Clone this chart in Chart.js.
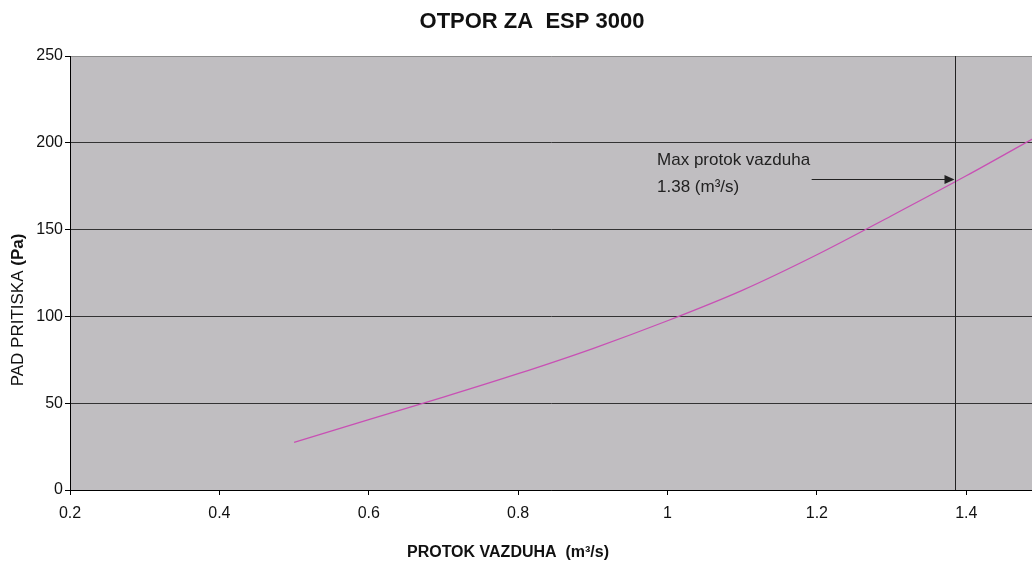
<!DOCTYPE html>
<html>
<head>
<meta charset="utf-8">
<script src="https://cdn.jsdelivr.net/npm/chart.js@4"></script>
<style>
  html, body { margin: 0; padding: 0; background: #fff; }
  canvas { display: block; }
</style>
</head>
<body>
<canvas id="esp-chart" width="1032" height="562"></canvas>
<script>
const xTicks = [0.2, 0.4, 0.6, 0.8, 1, 1.2, 1.4];
const yTicks = [0, 50, 100, 150, 200, 250];
const flow = [0.5, 0.6, 0.7, 0.8, 0.9, 1.0, 1.1, 1.2, 1.3, 1.4, 1.5];
const pressure = [27.5, 40.5, 53.5, 67, 81.5, 97.5, 115, 135.5, 158, 181, 205];
const maxFlow = 1.385;

const FONT = '"Liberation Sans", Arial, sans-serif';
Chart.defaults.font.family = FONT;

const decor = {
  id: 'decor',
  beforeDraw(chart) {
    const { ctx, chartArea: a } = chart;
    ctx.save();
    ctx.fillStyle = '#c0bec1';
    ctx.fillRect(a.left, a.top, a.right - a.left, a.bottom - a.top);
    ctx.restore();
  },
  afterDatasetsDraw(chart) {
    const { ctx, chartArea: a, scales: { x, y } } = chart;
    ctx.save();
    // max flow line
    const lx = Math.round(x.getPixelForValue(maxFlow)) + 0.5;
    ctx.strokeStyle = '#222';
    ctx.lineWidth = 1;
    ctx.beginPath();
    ctx.moveTo(lx, a.top);
    ctx.lineTo(lx, a.bottom);
    ctx.stroke();

    // arrow pointing at the line
    const ay = Math.round(y.getPixelForValue(179)) + 0.5;
    const ax0 = x.getPixelForValue(1.193);
    const tip = lx - 1;
    ctx.beginPath();
    ctx.moveTo(ax0, ay);
    ctx.lineTo(tip - 9, ay);
    ctx.stroke();
    ctx.fillStyle = '#222';
    ctx.beginPath();
    ctx.moveTo(tip, ay);
    ctx.lineTo(tip - 10, ay - 4.5);
    ctx.lineTo(tip - 10, ay + 4.5);
    ctx.closePath();
    ctx.fill();

    // annotation text
    ctx.fillStyle = '#222';
    ctx.font = '17px ' + FONT;
    ctx.textBaseline = 'middle';
    ctx.textAlign = 'left';
    const tx = x.getPixelForValue(0.986);
    ctx.fillText('Max protok vazduha', tx, y.getPixelForValue(189.7));
    ctx.fillText('1.38 (m³/s)', tx, y.getPixelForValue(174.5));
    ctx.restore();
  },
  afterDraw(chart) {
    const { ctx } = chart;
    ctx.save();
    ctx.fillStyle = '#111';
    ctx.textBaseline = 'middle';
    ctx.textAlign = 'center';
    ctx.font = 'bold 22px ' + FONT;
    ctx.fillText('OTPOR ZA  ESP 3000', 532, 22);
    ctx.font = 'bold 16px ' + FONT;
    ctx.fillText('PROTOK VAZDUHA  (m³/s)', 508, 553);

    // y title: normal + bold part
    ctx.translate(18, 310);
    ctx.rotate(-Math.PI / 2);
    const part1 = 'PAD PRITISKA ';
    const part2 = '(Pa)';
    ctx.font = '17px ' + FONT;
    const w1 = ctx.measureText(part1).width;
    ctx.font = 'bold 17px ' + FONT;
    const w2 = ctx.measureText(part2).width;
    const start = -(w1 + w2) / 2;
    ctx.textAlign = 'left';
    ctx.font = '17px ' + FONT;
    ctx.fillText(part1, start, 0);
    ctx.font = 'bold 17px ' + FONT;
    ctx.fillText(part2, start + w1, 0);
    ctx.restore();
  }
};

new Chart(document.getElementById('esp-chart'), {
  type: 'line',
  data: {
    datasets: [
      {
        label: 'Otpor',
        data: flow.map((q, i) => ({ x: q, y: pressure[i] })),
        borderColor: '#c850b4',
        borderWidth: 1.3,
        pointRadius: 0,
        fill: false,
        cubicInterpolationMode: 'monotone',
      },
    ],
  },
  options: {
    responsive: false,
    animation: false,
    devicePixelRatio: 1,
    layout: { padding: { top: 56, left: 0, right: 0, bottom: 0 } },
    scales: {
      x: {
        type: 'linear',
        min: 0.2,
        max: 1.488,
        afterBuildTicks: (s) => { s.ticks = xTicks.map((v) => ({ value: v })); },
        afterFit: (s) => { s.height = 72; },
        grid: { drawOnChartArea: false, tickLength: 5, color: '#000', tickColor: '#000' },
        border: { color: '#000', width: 1 },
        ticks: {
          color: '#111',
          font: { size: 16 },
          padding: 9,
          maxRotation: 0,
          callback: (v) => String(v),
        },
      },
      y: {
        min: 0,
        max: 250,
        afterBuildTicks: (s) => { s.ticks = yTicks.map((v) => ({ value: v })); },
        afterFit: (s) => { s.width = 70; },
        grid: {
          color: (c) => (c.tick && c.tick.value === 250 ? '#8c8c8c' : '#333'),
          tickColor: '#000',
          tickLength: 5,
        },
        border: { color: '#000', width: 1 },
        ticks: { color: '#111', font: { size: 16 }, padding: 2 },
      },
    },
    plugins: {
      legend: { display: false },
      tooltip: { enabled: false },
      title: { display: false },
    },
  },
  plugins: [decor],
});
</script>
</body>
</html>
